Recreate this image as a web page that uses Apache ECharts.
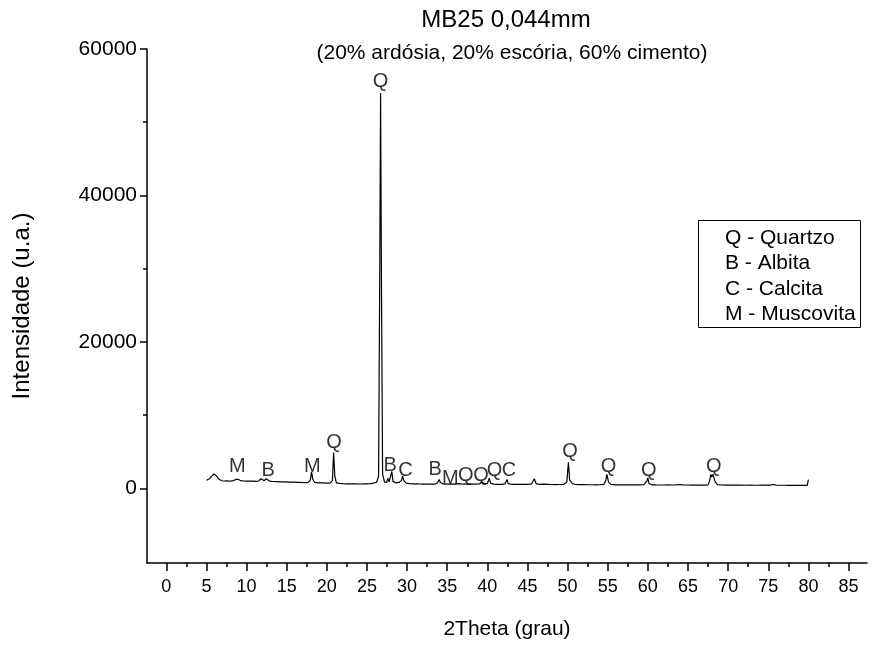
<!DOCTYPE html>
<html><head><meta charset="utf-8">
<script src="https://cdn.jsdelivr.net/npm/echarts@6/dist/echarts.min.js"></script>
<style>html,body{margin:0;padding:0;background:#fff}#c{width:875px;height:645px}</style>
</head><body><div id="c"></div>
<script>
// Diffractogram trace: 2θ (deg) and intensity (u.a.)
const twoTheta = [5.0,5.2,5.4,5.6,5.8,5.95,6.1,6.3,6.5,6.7,6.9,7.2,7.5,7.8,8.1,8.4,8.7,8.85,9.0,9.3,9.6,10.0,10.4,10.8,11.2,11.5,11.8,11.95,12.2,12.45,12.6,12.9,13.3,13.8,14.3,14.8,15.3,15.8,16.3,16.8,17.3,17.7,17.95,18.1,18.25,18.5,19.0,19.5,20.0,20.4,20.7,20.85,21.0,21.2,21.6,22.0,22.5,23.0,23.5,24.0,24.5,25.0,25.4,25.8,26.2,26.45,26.6,26.7,26.8,26.95,27.2,27.45,27.6,27.75,27.95,28.1,28.25,28.6,29.0,29.3,29.45,29.6,29.9,30.3,30.8,31.2,31.6,32.0,32.5,33.0,33.5,33.8,34.0,34.15,34.5,35.0,35.5,36.0,36.4,36.55,36.7,37.2,37.8,38.4,39.0,39.3,39.45,39.6,40.0,40.25,40.4,40.8,41.3,41.8,42.2,42.45,42.6,43.0,43.5,44.0,44.5,45.0,45.5,45.85,46.1,46.6,47.0,47.2,47.5,48.0,48.5,49.0,49.5,49.9,50.1,50.25,50.6,51.0,51.5,52.0,52.5,53.0,53.5,54.0,54.5,54.75,54.9,55.1,55.4,56.0,56.5,57.0,57.5,58.0,58.5,59.0,59.5,59.85,60.0,60.15,60.5,61.0,61.5,62.0,62.5,63.0,63.5,64.0,64.3,65.0,65.5,66.0,66.5,67.0,67.5,67.7,67.85,67.95,68.1,68.25,68.4,68.7,69.2,69.7,70.2,70.7,71.2,71.7,72.2,72.7,73.2,73.7,74.2,74.7,75.2,75.6,76.0,76.5,77.0,77.5,78.0,78.5,79.0,79.5,79.85,80.0];
const intensity = [1100,1150,1300,1600,1850,1950,1900,1650,1300,1100,1030,1000,1020,980,1010,1050,1250,1500,1200,1030,1010,990,970,980,950,1000,1300,1050,1030,1300,1150,970,930,910,890,870,850,840,820,800,790,810,1150,2250,1250,800,750,730,710,710,1050,4900,1650,750,670,630,620,600,610,590,600,620,650,710,830,1650,30000,54000,30000,1950,850,800,1400,850,1050,2300,950,750,800,1050,1650,1050,700,630,600,610,590,580,580,570,580,750,1200,800,590,580,570,580,630,750,600,570,560,570,600,850,1050,650,630,1400,700,570,550,550,600,1200,650,550,540,530,530,540,600,1300,600,530,570,700,550,520,510,520,530,850,3550,1150,650,520,500,500,490,490,480,490,530,1050,1900,850,530,480,480,470,480,470,470,480,500,950,1400,650,480,460,450,450,460,450,460,520,470,450,440,440,450,440,470,1050,1900,1550,1900,1800,850,500,450,440,440,430,430,430,420,430,420,420,430,430,440,520,440,420,420,410,420,410,410,400,410,1200];

// Phase labels over peaks
const peakLabelX = [8.85,12.7,18.2,20.9,26.7,27.9,29.8,33.5,35.4,37.3,39.2,40.9,42.7,50.3,55.1,60.1,68.2];
const peakLabelY = [3000,2450,3000,6200,55500,3100,2450,2550,1400,1700,1700,2450,2450,5000,3000,2450,3000];
const peakLabelText = ['M','B','M','Q','Q','B','C','B','M','Q','Q','Q','C','Q','Q','Q','Q'];

const xMajorTicks = [0,5,10,15,20,25,30,35,40,45,50,55,60,65,70,75,80,85];
const xMinorTicks = [2.5,7.5,12.5,17.5,22.5,27.5,32.5,37.5,42.5,47.5,52.5,57.5,62.5,67.5,72.5,77.5,82.5];
const yMajorTicks = [0,20000,40000,60000];
const yMinorTicks = [10000,30000,50000];

const legendLines = ['Q - Quartzo','B - Albita','C - Calcita','M - Muscovita'];

const FONT = 'Liberation Sans, Arial, sans-serif';
const chart = echarts.init(document.getElementById('c'), null, {renderer:'canvas'});
const line = twoTheta.map((t,i)=>[t,intensity[i]]);
const labels = peakLabelX.map((x,i)=>[x,peakLabelY[i],peakLabelText[i]]);
const axisLine = {show:true, onZero:false, lineStyle:{color:'#000', width:1.5}};
chart.setOption({
  animation:false,
  backgroundColor:'#fff',
  grid:{left:147, right:8, top:49, bottom:78, containLabel:false},
  xAxis:[
    {type:'value', min:-2.4, max:87.3, position:'bottom', axisLine:axisLine,
     axisTick:{show:true, customValues:xMajorTicks, length:8, lineStyle:{color:'#000',width:1.5}},
     axisLabel:{show:true, customValues:xMajorTicks, color:'#000', fontSize:18, fontFamily:FONT, margin:15},
     splitLine:{show:false},
     name:'2Theta (grau)', nameLocation:'middle', nameGap:56,
     nameTextStyle:{color:'#000', fontSize:21, fontFamily:FONT}},
    {type:'value', min:-2.4, max:87.3, position:'bottom', axisLine:{show:false, onZero:false},
     axisTick:{show:true, customValues:xMinorTicks, length:4, lineStyle:{color:'#000',width:1.5}},
     axisLabel:{show:false}, splitLine:{show:false}}
  ],
  yAxis:[
    {type:'value', min:-10200, max:60000, position:'left', axisLine:axisLine,
     axisTick:{show:true, customValues:yMajorTicks, length:7, lineStyle:{color:'#000',width:1.5}},
     axisLabel:{show:true, customValues:yMajorTicks, color:'#000', fontSize:21, fontFamily:FONT, margin:10,
                formatter:v=>String(v)},
     splitLine:{show:false},
     name:'Intensidade (u.a.)', nameLocation:'middle', nameGap:113, nameRotate:90,
     nameTextStyle:{color:'#000', fontSize:24, fontFamily:FONT}},
    {type:'value', min:-10200, max:60000, position:'left', axisLine:{show:false, onZero:false},
     axisTick:{show:true, customValues:yMinorTicks, length:4, lineStyle:{color:'#000',width:1.5}},
     axisLabel:{show:false}, splitLine:{show:false}}
  ],
  series:[
    {type:'line', xAxisIndex:0, yAxisIndex:0, data:line, showSymbol:false, symbol:'none',
     lineStyle:{color:'#000', width:1.2}, silent:true},
    {type:'scatter', xAxisIndex:0, yAxisIndex:0, data:labels, symbolSize:1,
     itemStyle:{color:'rgba(0,0,0,0)'},
     label:{show:true, position:'inside', formatter:p=>p.value[2], color:'#000', fontSize:20, fontFamily:FONT},
     silent:true}
  ],
  graphic:[
    {type:'text', x:506, y:20, style:{text:'MB25 0,044mm', fill:'#000', font:'24px '+FONT, textAlign:'center', textVerticalAlign:'middle'}},
    {type:'text', x:512, y:53, style:{text:'(20% ardósia, 20% escória, 60% cimento)', fill:'#000', font:'21px '+FONT, textAlign:'center', textVerticalAlign:'middle'}},
    {type:'rect', shape:{x:698.5, y:220.5, width:162, height:107}, style:{fill:'#fff', stroke:'#000', lineWidth:1}},
    ...legendLines.map((t,i)=>({type:'text', x:725, y:238+i*25.5, style:{text:t, fill:'#000', font:'21px '+FONT, textAlign:'left', textVerticalAlign:'middle'}}))
  ]
});
</script></body></html>
